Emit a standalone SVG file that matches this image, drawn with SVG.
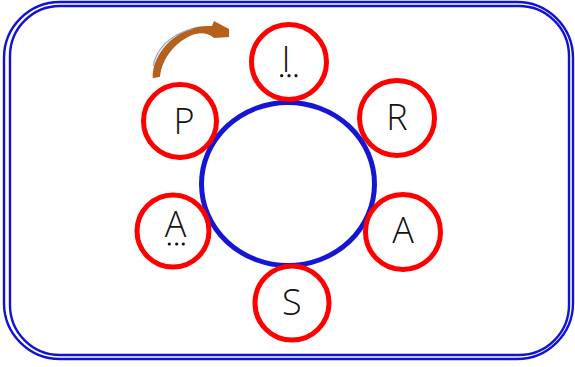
<svg xmlns="http://www.w3.org/2000/svg" width="575" height="367" viewBox="0 0 575 367">
<style>
.frame{fill:none;stroke:#1212d4;stroke-width:2.4}
.ring{fill:#ffffff;stroke:#ff0000;stroke-width:5}
.lbl{font-family:"Open Sans","Liberation Sans",Arial,sans-serif;font-weight:360;font-size:36px;fill:#111111;text-anchor:middle}
.dot{fill:#111111}
</style>
<rect width="575" height="367" fill="#ffffff"/>
<g id="frame">
<rect class="frame" x="4" y="2" width="569" height="357" rx="56" ry="56"/>
<rect class="frame" x="10" y="6" width="559" height="349" rx="50" ry="50"/>
</g>
<g id="arrow">
<path d="M152.7,78.3 C152,58 168,36 193,28 C200,26 206,26 212,26 L214,21 L229,29 L229,37 L214,38 C208,32 198,32 190,36 C175,43 162,58 160,76.7 Z" fill="#b5601c"/>
<path d="M153.3,66 C156,50 170,34 193,28.6" fill="none" stroke="#8ea8c6" stroke-width="1.3" opacity="0.9"/>
</g>
<g id="hub">
<ellipse cx="288" cy="184" rx="86.5" ry="81.5" fill="none" stroke="#1515d6" stroke-width="5"/>
</g>
<g id="connectors"></g>
<g id="node-I">
<circle class="ring" cx="289" cy="62" r="37.5"/>
<text class="lbl" x="286" y="72.3">I</text>
<circle class="dot" cx="281.7" cy="75.7" r="1.6"/>
<circle class="dot" cx="289" cy="75.7" r="1.6"/>
<circle class="dot" cx="296" cy="75.7" r="1.6"/>
</g>
<g id="node-R">
<circle class="ring" cx="397" cy="118" r="37.5"/>
<text class="lbl" x="397" y="130">R</text>
</g>
<g id="node-A-right">
<circle class="ring" cx="403" cy="232" r="37.5"/>
<text class="lbl" x="403" y="243.3">A</text>
</g>
<g id="node-S">
<circle class="ring" cx="292" cy="303" r="37"/>
<text class="lbl" x="291.7" y="314.5">S</text>
</g>
<g id="node-A-left">
<circle class="ring" cx="173" cy="231" r="36"/>
<text class="lbl" x="175.5" y="236.7">A</text>
<circle class="dot" cx="169.3" cy="244" r="1.6"/>
<circle class="dot" cx="176.7" cy="244" r="1.6"/>
<circle class="dot" cx="183.3" cy="244" r="1.6"/>
</g>
<g id="node-P">
<circle class="ring" cx="180" cy="121" r="36.5"/>
<text class="lbl" x="184" y="134.3">P</text>
</g>
</svg>
